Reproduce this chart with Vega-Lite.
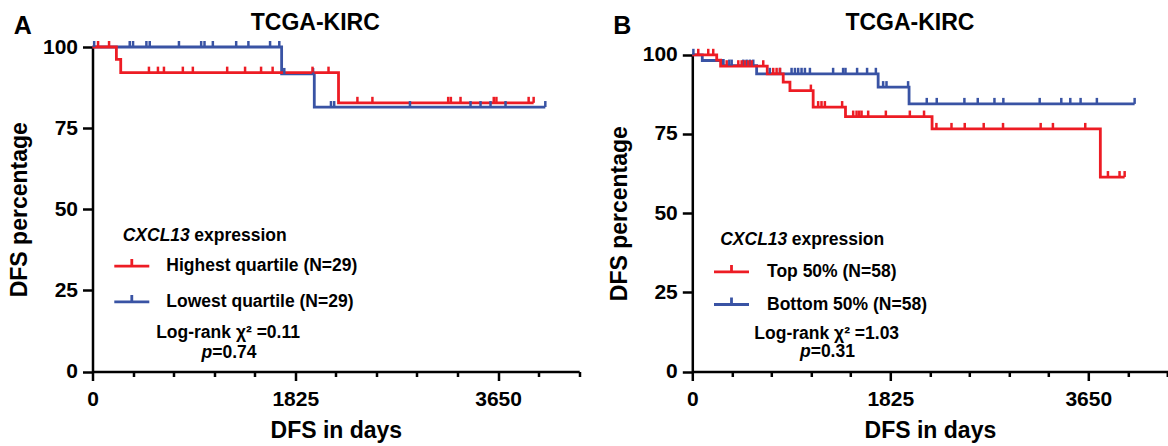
{
  "$schema": "https://vega.github.io/schema/vega-lite/v6.json",
  "background": "white",
  "padding": {"left": 7.5, "top": 11, "right": 0, "bottom": 0},
  "config": {
    "font": "Liberation Sans",
    "view": {"stroke": null},
    "axis": {
      "grid": false,
      "labelOverlap": false,
      "domainColor": "black",
      "domainWidth": 2.5,
      "tickColor": "black",
      "tickWidth": 2.5,
      "labelFont": "Liberation Sans",
      "labelFontSize": 21,
      "labelFontWeight": "bold",
      "labelColor": "black",
      "titleFont": "Liberation Sans",
      "titleFontSize": 23,
      "titleFontWeight": "bold",
      "titleColor": "black"
    },
    "text": {"font": "Liberation Sans", "fontWeight": "bold", "color": "black", "baseline": "alphabetic"}
  },
  "datasets": {
    "kmA": [
      {"group": "Lowest quartile (N=29)", "day": 0, "surv": 100},
      {"group": "Lowest quartile (N=29)", "day": 1702, "surv": 91.7},
      {"group": "Lowest quartile (N=29)", "day": 1996, "surv": 81.5},
      {"group": "Lowest quartile (N=29)", "day": 4075, "surv": 81.5},
      {"group": "Highest quartile (N=29)", "day": 0, "surv": 100},
      {"group": "Highest quartile (N=29)", "day": 215, "surv": 96.2},
      {"group": "Highest quartile (N=29)", "day": 254, "surv": 92.1},
      {"group": "Highest quartile (N=29)", "day": 2214, "surv": 82.8},
      {"group": "Highest quartile (N=29)", "day": 3970, "surv": 82.8}
    ],
    "censA": [
      {"group": "Lowest quartile (N=29)", "day": 15, "surv": 100},
      {"group": "Lowest quartile (N=29)", "day": 335, "surv": 100},
      {"group": "Lowest quartile (N=29)", "day": 365, "surv": 100},
      {"group": "Lowest quartile (N=29)", "day": 485, "surv": 100},
      {"group": "Lowest quartile (N=29)", "day": 515, "surv": 100},
      {"group": "Lowest quartile (N=29)", "day": 778, "surv": 100},
      {"group": "Lowest quartile (N=29)", "day": 978, "surv": 100},
      {"group": "Lowest quartile (N=29)", "day": 1008, "surv": 100},
      {"group": "Lowest quartile (N=29)", "day": 1083, "surv": 100},
      {"group": "Lowest quartile (N=29)", "day": 1293, "surv": 100},
      {"group": "Lowest quartile (N=29)", "day": 1403, "surv": 100},
      {"group": "Lowest quartile (N=29)", "day": 1598, "surv": 100},
      {"group": "Lowest quartile (N=29)", "day": 1681, "surv": 100},
      {"group": "Lowest quartile (N=29)", "day": 1726, "surv": 91.7},
      {"group": "Lowest quartile (N=29)", "day": 1985, "surv": 91.7},
      {"group": "Lowest quartile (N=29)", "day": 2146, "surv": 81.5},
      {"group": "Lowest quartile (N=29)", "day": 2175, "surv": 81.5},
      {"group": "Lowest quartile (N=29)", "day": 2857, "surv": 81.5},
      {"group": "Lowest quartile (N=29)", "day": 3402, "surv": 81.5},
      {"group": "Lowest quartile (N=29)", "day": 3492, "surv": 81.5},
      {"group": "Lowest quartile (N=29)", "day": 3582, "surv": 81.5},
      {"group": "Lowest quartile (N=29)", "day": 3717, "surv": 81.5},
      {"group": "Lowest quartile (N=29)", "day": 4075, "surv": 81.5},
      {"group": "Highest quartile (N=29)", "day": 50, "surv": 100},
      {"group": "Highest quartile (N=29)", "day": 149, "surv": 100},
      {"group": "Highest quartile (N=29)", "day": 508, "surv": 92.1},
      {"group": "Highest quartile (N=29)", "day": 589, "surv": 92.1},
      {"group": "Highest quartile (N=29)", "day": 643, "surv": 92.1},
      {"group": "Highest quartile (N=29)", "day": 813, "surv": 92.1},
      {"group": "Highest quartile (N=29)", "day": 903, "surv": 92.1},
      {"group": "Highest quartile (N=29)", "day": 1212, "surv": 92.1},
      {"group": "Highest quartile (N=29)", "day": 1373, "surv": 92.1},
      {"group": "Highest quartile (N=29)", "day": 1517, "surv": 92.1},
      {"group": "Highest quartile (N=29)", "day": 1621, "surv": 92.1},
      {"group": "Highest quartile (N=29)", "day": 1980, "surv": 92.1},
      {"group": "Highest quartile (N=29)", "day": 2124, "surv": 92.1},
      {"group": "Highest quartile (N=29)", "day": 2384, "surv": 82.8},
      {"group": "Highest quartile (N=29)", "day": 2519, "surv": 82.8},
      {"group": "Highest quartile (N=29)", "day": 3201, "surv": 82.8},
      {"group": "Highest quartile (N=29)", "day": 3225, "surv": 82.8},
      {"group": "Highest quartile (N=29)", "day": 3312, "surv": 82.8},
      {"group": "Highest quartile (N=29)", "day": 3611, "surv": 82.8},
      {"group": "Highest quartile (N=29)", "day": 3635, "surv": 82.8},
      {"group": "Highest quartile (N=29)", "day": 3925, "surv": 82.8},
      {"group": "Highest quartile (N=29)", "day": 3970, "surv": 82.8}
    ],
    "kmB": [
      {"group": "Bottom 50% (N=58)", "day": 0, "surv": 100},
      {"group": "Bottom 50% (N=58)", "day": 92, "surv": 98.2},
      {"group": "Bottom 50% (N=58)", "day": 286, "surv": 96.6},
      {"group": "Bottom 50% (N=58)", "day": 593, "surv": 94.0},
      {"group": "Bottom 50% (N=58)", "day": 1713, "surv": 89.8},
      {"group": "Bottom 50% (N=58)", "day": 1998, "surv": 84.5},
      {"group": "Bottom 50% (N=58)", "day": 4077, "surv": 84.5},
      {"group": "Top 50% (N=58)", "day": 0, "surv": 100},
      {"group": "Top 50% (N=58)", "day": 225, "surv": 98.3},
      {"group": "Top 50% (N=58)", "day": 261, "surv": 96.4},
      {"group": "Top 50% (N=58)", "day": 691, "surv": 94.0},
      {"group": "Top 50% (N=58)", "day": 838, "surv": 91.4},
      {"group": "Top 50% (N=58)", "day": 900, "surv": 88.7},
      {"group": "Top 50% (N=58)", "day": 1114, "surv": 83.5},
      {"group": "Top 50% (N=58)", "day": 1412, "surv": 80.5},
      {"group": "Top 50% (N=58)", "day": 2210, "surv": 76.6},
      {"group": "Top 50% (N=58)", "day": 3761, "surv": 61.4},
      {"group": "Top 50% (N=58)", "day": 3985, "surv": 61.4}
    ],
    "censB": [
      {"group": "Bottom 50% (N=58)", "day": 10, "surv": 100},
      {"group": "Bottom 50% (N=58)", "day": 341, "surv": 96.6},
      {"group": "Bottom 50% (N=58)", "day": 363, "surv": 96.6},
      {"group": "Bottom 50% (N=58)", "day": 470, "surv": 96.6},
      {"group": "Bottom 50% (N=58)", "day": 501, "surv": 96.6},
      {"group": "Bottom 50% (N=58)", "day": 531, "surv": 96.6},
      {"group": "Bottom 50% (N=58)", "day": 562, "surv": 96.6},
      {"group": "Bottom 50% (N=58)", "day": 715, "surv": 94.0},
      {"group": "Bottom 50% (N=58)", "day": 808, "surv": 94.0},
      {"group": "Bottom 50% (N=58)", "day": 915, "surv": 94.0},
      {"group": "Bottom 50% (N=58)", "day": 946, "surv": 94.0},
      {"group": "Bottom 50% (N=58)", "day": 976, "surv": 94.0},
      {"group": "Bottom 50% (N=58)", "day": 1007, "surv": 94.0},
      {"group": "Bottom 50% (N=58)", "day": 1038, "surv": 94.0},
      {"group": "Bottom 50% (N=58)", "day": 1084, "surv": 94.0},
      {"group": "Bottom 50% (N=58)", "day": 1298, "surv": 94.0},
      {"group": "Bottom 50% (N=58)", "day": 1390, "surv": 94.0},
      {"group": "Bottom 50% (N=58)", "day": 1412, "surv": 94.0},
      {"group": "Bottom 50% (N=58)", "day": 1519, "surv": 94.0},
      {"group": "Bottom 50% (N=58)", "day": 1611, "surv": 94.0},
      {"group": "Bottom 50% (N=58)", "day": 1692, "surv": 94.0},
      {"group": "Bottom 50% (N=58)", "day": 1759, "surv": 89.8},
      {"group": "Bottom 50% (N=58)", "day": 1790, "surv": 89.8},
      {"group": "Bottom 50% (N=58)", "day": 1989, "surv": 89.8},
      {"group": "Bottom 50% (N=58)", "day": 2161, "surv": 84.5},
      {"group": "Bottom 50% (N=58)", "day": 2253, "surv": 84.5},
      {"group": "Bottom 50% (N=58)", "day": 2508, "surv": 84.5},
      {"group": "Bottom 50% (N=58)", "day": 2631, "surv": 84.5},
      {"group": "Bottom 50% (N=58)", "day": 2785, "surv": 84.5},
      {"group": "Bottom 50% (N=58)", "day": 2867, "surv": 84.5},
      {"group": "Bottom 50% (N=58)", "day": 3202, "surv": 84.5},
      {"group": "Bottom 50% (N=58)", "day": 3401, "surv": 84.5},
      {"group": "Bottom 50% (N=58)", "day": 3484, "surv": 84.5},
      {"group": "Bottom 50% (N=58)", "day": 3579, "surv": 84.5},
      {"group": "Bottom 50% (N=58)", "day": 3729, "surv": 84.5},
      {"group": "Bottom 50% (N=58)", "day": 4077, "surv": 84.5},
      {"group": "Top 50% (N=58)", "day": 55, "surv": 100},
      {"group": "Top 50% (N=58)", "day": 147, "surv": 100},
      {"group": "Top 50% (N=58)", "day": 193, "surv": 100},
      {"group": "Top 50% (N=58)", "day": 317, "surv": 96.4},
      {"group": "Top 50% (N=58)", "day": 424, "surv": 96.4},
      {"group": "Top 50% (N=58)", "day": 455, "surv": 96.4},
      {"group": "Top 50% (N=58)", "day": 485, "surv": 96.4},
      {"group": "Top 50% (N=58)", "day": 516, "surv": 96.4},
      {"group": "Top 50% (N=58)", "day": 547, "surv": 96.4},
      {"group": "Top 50% (N=58)", "day": 654, "surv": 96.4},
      {"group": "Top 50% (N=58)", "day": 746, "surv": 94.0},
      {"group": "Top 50% (N=58)", "day": 777, "surv": 94.0},
      {"group": "Top 50% (N=58)", "day": 808, "surv": 94.0},
      {"group": "Top 50% (N=58)", "day": 1093, "surv": 88.7},
      {"group": "Top 50% (N=58)", "day": 1160, "surv": 83.5},
      {"group": "Top 50% (N=58)", "day": 1191, "surv": 83.5},
      {"group": "Top 50% (N=58)", "day": 1222, "surv": 83.5},
      {"group": "Top 50% (N=58)", "day": 1381, "surv": 83.5},
      {"group": "Top 50% (N=58)", "day": 1483, "surv": 80.5},
      {"group": "Top 50% (N=58)", "day": 1514, "surv": 80.5},
      {"group": "Top 50% (N=58)", "day": 1538, "surv": 80.5},
      {"group": "Top 50% (N=58)", "day": 1560, "surv": 80.5},
      {"group": "Top 50% (N=58)", "day": 1621, "surv": 80.5},
      {"group": "Top 50% (N=58)", "day": 1784, "surv": 80.5},
      {"group": "Top 50% (N=58)", "day": 2005, "surv": 80.5},
      {"group": "Top 50% (N=58)", "day": 2136, "surv": 80.5},
      {"group": "Top 50% (N=58)", "day": 2250, "surv": 76.6},
      {"group": "Top 50% (N=58)", "day": 2389, "surv": 76.6},
      {"group": "Top 50% (N=58)", "day": 2511, "surv": 76.6},
      {"group": "Top 50% (N=58)", "day": 2686, "surv": 76.6},
      {"group": "Top 50% (N=58)", "day": 2864, "surv": 76.6},
      {"group": "Top 50% (N=58)", "day": 3211, "surv": 76.6},
      {"group": "Top 50% (N=58)", "day": 3324, "surv": 76.6},
      {"group": "Top 50% (N=58)", "day": 3622, "surv": 76.6},
      {"group": "Top 50% (N=58)", "day": 3831, "surv": 61.4},
      {"group": "Top 50% (N=58)", "day": 3938, "surv": 61.4},
      {"group": "Top 50% (N=58)", "day": 3985, "surv": 61.4}
    ]
  },
  "spacing": 25.8,
  "resolve": {"scale": {"x": "independent", "y": "independent", "color": "independent", "stroke": "independent"}, "legend": {"color": "independent"}},
  "hconcat": [
    {
      "width": 486.7,
      "height": 324.5,
      "resolve": {"axis": {"x": "independent"}},
      "layer": [
        {
          "data": {"name": "kmA"},
          "mark": {"type": "line", "interpolate": "step-after", "strokeWidth": 2.8},
          "encoding": {
            "x": {
              "field": "day", "type": "quantitative",
              "scale": {"domain": [0, 4380], "nice": false, "zero": false},
              "axis": {"orient": "bottom", "title": "DFS in days", "values": [0, 1825, 3650], "format": "d", "tickSize": 9, "labelPadding": 8, "labelFlush": false, "labelOverlap": false, "titlePadding": 10}
            },
            "y": {
              "field": "surv", "type": "quantitative",
              "scale": {"domain": [0, 100], "nice": false},
              "axis": {"title": "DFS percentage", "values": [0, 25, 50, 75, 100], "tickSize": 10, "labelPadding": 5, "titlePadding": 11}
            },
            "color": {
              "field": "group", "type": "nominal",
              "scale": {"domain": ["Highest quartile (N=29)", "Lowest quartile (N=29)"], "range": ["#ED1C24", "#3953A4"]},
              "legend": {
                "title": null, "orient": "none", "legendX": 20.3, "legendY": 200.1, "padding": 0,
                "symbolType": "M-1,0H1M0,0V-0.4", "symbolSize": 1225, "symbolStrokeWidth": 2.8,
                "labelFont": "Liberation Sans", "labelFontSize": 17.5, "labelFontWeight": "bold", "labelColor": "black",
                "labelOffset": 15.5, "rowPadding": 7.8, "labelLimit": 400
              }
            }
          }
        },
        {
          "data": {"name": "censA"},
          "mark": {"type": "point", "shape": "M0,0V-1", "size": 144, "filled": false, "strokeWidth": 2.5, "opacity": 1},
          "encoding": {
            "x": {
              "field": "day", "type": "quantitative",
              "axis": {"orient": "bottom", "title": null, "values": [365, 730, 1095, 1460, 2190, 2555, 2920, 3285, 4015, 4380], "tickSize": 5, "labels": false, "domain": false}
            },
            "y": {"field": "surv", "type": "quantitative"},
            "stroke": {
              "field": "group", "type": "nominal",
              "scale": {"domain": ["Highest quartile (N=29)", "Lowest quartile (N=29)"], "range": ["#ED1C24", "#3953A4"]},
              "legend": null
            }
          }
        },
        {"data": {"values": [{}]}, "mark": {"type": "text", "text": "A", "align": "left", "fontSize": 25}, "encoding": {"x": {"datum": -708, "axis": null}, "y": {"datum": 103.9}}},
        {"data": {"values": [{}]}, "mark": {"type": "text", "text": "TCGA-KIRC", "align": "center", "fontSize": 23}, "encoding": {"x": {"datum": 2005, "axis": null}, "y": {"datum": 105.3}}},
        {"data": {"values": [{}]}, "mark": {"type": "text", "text": "CXCL13", "align": "right", "fontSize": 17.5, "fontStyle": "italic"}, "encoding": {"x": {"datum": 876, "axis": null}, "y": {"datum": 40.1}}},
        {"data": {"values": [{}]}, "mark": {"type": "text", "text": "expression", "align": "left", "dx": 4.5, "fontSize": 17.5}, "encoding": {"x": {"datum": 876, "axis": null}, "y": {"datum": 40.1}}},
        {"data": {"values": [{}]}, "mark": {"type": "text", "text": "Log-rank χ² =0.11", "align": "center", "fontSize": 17.5}, "encoding": {"x": {"datum": 1220, "axis": null}, "y": {"datum": 10.2}}},
        {"data": {"values": [{}]}, "mark": {"type": "text", "text": "p", "align": "right", "fontSize": 17.5, "fontStyle": "italic"}, "encoding": {"x": {"datum": 1077, "axis": null}, "y": {"datum": 4.2}}},
        {"data": {"values": [{}]}, "mark": {"type": "text", "text": "=0.74", "align": "left", "fontSize": 17.5}, "encoding": {"x": {"datum": 1077, "axis": null}, "y": {"datum": 4.2}}}
      ]
    },
    {
      "width": 475.2,
      "height": 324.5,
      "resolve": {"axis": {"x": "independent"}},
      "layer": [
        {
          "data": {"name": "kmB"},
          "mark": {"type": "line", "interpolate": "step-after", "strokeWidth": 2.8},
          "encoding": {
            "x": {
              "field": "day", "type": "quantitative",
              "scale": {"domain": [0, 4380], "nice": false, "zero": false},
              "axis": {"orient": "bottom", "title": "DFS in days", "values": [0, 1825, 3650], "format": "d", "tickSize": 9, "labelPadding": 8, "labelFlush": false, "labelOverlap": false, "titlePadding": 10}
            },
            "y": {
              "field": "surv", "type": "quantitative",
              "scale": {"domain": [0, 100], "range": [324.5, 7.8], "nice": false},
              "axis": {"title": "DFS percentage", "values": [0, 25, 50, 75, 100], "tickSize": 10, "labelPadding": 5, "titlePadding": 11}
            },
            "color": {
              "field": "group", "type": "nominal",
              "scale": {"domain": ["Top 50% (N=58)", "Bottom 50% (N=58)"], "range": ["#ED1C24", "#3953A4"]},
              "legend": {
                "title": null, "orient": "none", "legendX": 20.2, "legendY": 205.9, "padding": 0,
                "symbolType": "M-1,0H1M0,0V-0.4", "symbolSize": 1225, "symbolStrokeWidth": 2.8,
                "labelFont": "Liberation Sans", "labelFontSize": 17.5, "labelFontWeight": "bold", "labelColor": "black",
                "labelOffset": 16.5, "rowPadding": 4.6, "labelLimit": 400
              }
            }
          }
        },
        {
          "data": {"name": "censB"},
          "mark": {"type": "point", "shape": "M0,0V-1", "size": 144, "filled": false, "strokeWidth": 2.5, "opacity": 1},
          "encoding": {
            "x": {
              "field": "day", "type": "quantitative",
              "axis": {"orient": "bottom", "title": null, "values": [365, 730, 1095, 1460, 2190, 2555, 2920, 3285, 4015, 4380], "tickSize": 5, "labels": false, "domain": false}
            },
            "y": {"field": "surv", "type": "quantitative"},
            "stroke": {
              "field": "group", "type": "nominal",
              "scale": {"domain": ["Top 50% (N=58)", "Bottom 50% (N=58)"], "range": ["#ED1C24", "#3953A4"]},
              "legend": null
            }
          }
        },
        {"data": {"values": [{}]}, "mark": {"type": "text", "text": "B", "align": "left", "fontSize": 25}, "encoding": {"x": {"datum": -728, "axis": null}, "y": {"datum": 106.6}}},
        {"data": {"values": [{}]}, "mark": {"type": "text", "text": "TCGA-KIRC", "align": "center", "fontSize": 23}, "encoding": {"x": {"datum": 2006, "axis": null}, "y": {"datum": 107.9}}},
        {"data": {"values": [{}]}, "mark": {"type": "text", "text": "CXCL13", "align": "right", "fontSize": 17.5, "fontStyle": "italic"}, "encoding": {"x": {"datum": 876, "axis": null}, "y": {"datum": 39.8}}},
        {"data": {"values": [{}]}, "mark": {"type": "text", "text": "expression", "align": "left", "dx": 4.5, "fontSize": 17.5}, "encoding": {"x": {"datum": 876, "axis": null}, "y": {"datum": 39.8}}},
        {"data": {"values": [{}]}, "mark": {"type": "text", "text": "Log-rank χ² =1.03", "align": "center", "fontSize": 17.5}, "encoding": {"x": {"datum": 1239, "axis": null}, "y": {"datum": 10.3}}},
        {"data": {"values": [{}]}, "mark": {"type": "text", "text": "p", "align": "right", "fontSize": 17.5, "fontStyle": "italic"}, "encoding": {"x": {"datum": 1091, "axis": null}, "y": {"datum": 4.5}}},
        {"data": {"values": [{}]}, "mark": {"type": "text", "text": "=0.31", "align": "left", "fontSize": 17.5}, "encoding": {"x": {"datum": 1091, "axis": null}, "y": {"datum": 4.5}}}
      ]
    }
  ]
}
